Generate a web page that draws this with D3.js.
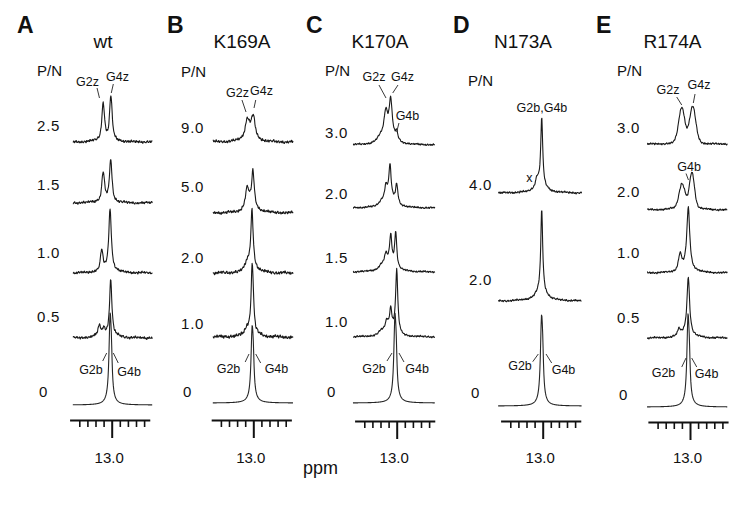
<!DOCTYPE html>
<html><head><meta charset="utf-8">
<script src="https://cdn.jsdelivr.net/npm/d3@7"></script>
<style>
body{margin:0;background:#fff}
text{font-family:Arial,"Liberation Sans",Helvetica,sans-serif;fill:#111}
</style>
</head><body>
<svg id="c" width="742" height="507"></svg>
<script>
// ---------------- DATA ----------------
const panelLetters = ["A","B","C","D","E"];
const panelTitles  = ["wt","K169A","K170A","N173A","R174A"];
const pnHeader = "P/N";
const pnA = ["2.5","1.5","1.0","0.5","0"];
const pnB = ["9.0","5.0","2.0","1.0","0"];
const pnC = ["3.0","2.0","1.5","1.0","0"];
const pnD = ["4.0","2.0","0"];
const pnE = ["3.0","2.0","1.0","0.5","0"];
const axisTicks = [13.4,13.3,13.2,13.1,13.0,12.9,12.8,12.7,12.6];
const majorTick = 13.0;
const majorTickLabel = "13.0";
const axisTitle = "ppm";

// peaks: [ppm, intensity, half-width (ppm), gaussian fraction]
const peaksA = [
  [[13.105,36,0.02,0.3],[13.01,43,0.019,0.3],[13.06,3,0.1]],
  [[13.105,28,0.02,0.3],[13.012,40,0.019,0.3],[13.06,3,0.1]],
  [[13.123,20,0.018,0.3],[13.02,62,0.019],[13.07,3,0.1]],
  [[13.153,10,0.02],[13.10,6,0.016],[13.012,56,0.017],[13.06,3,0.12]],
  [[13.02,78,0.016],[13.004,28,0.012],[13.015,4,0.06]]
];
const peaksB = [
  [[13.074,16,0.03,0.3],[13.0,19,0.026,0.3],[13.04,9,0.07]],
  [[13.076,18,0.026,0.3],[13.004,35,0.018],[13.03,9,0.07]],
  [[13.078,6,0.022],[13.016,57,0.017],[13.03,7,0.07]],
  [[13.015,62,0.015],[13.0,15,0.012],[13.08,5,0.022],[13.03,6,0.07]],
  [[13.015,64,0.016],[13.0,24,0.012],[13.01,4,0.06]]
];
const peaksC = [
  [[13.20,5,0.05],[13.135,25,0.027],[13.074,34,0.021],[13.0,8,0.017],[13.09,10,0.07]],
  [[13.132,15,0.022],[13.083,32,0.016],[13.0,20,0.016],[13.08,9,0.07],[13.19,4,0.04]],
  [[13.135,11,0.022],[13.074,27,0.015],[13.012,35,0.015],[13.08,9,0.07],[13.19,4,0.04]],
  [[13.0,63,0.016],[13.074,19,0.016],[13.125,9,0.02],[13.08,8,0.07],[13.19,4,0.04]],
  [[13.022,75,0.016],[13.006,28,0.012],[13.015,4,0.06]]
];
const peaksD = [
  [[13.012,68,0.014],[13.07,8,0.022],[13.03,8,0.08]],
  [[13.012,82,0.014],[13.02,10,0.08]],
  [[13.015,76,0.016],[13.0,28,0.012],[13.01,4,0.06]]
];
const peaksE = [
  [[13.102,36,0.045,0.8],[12.967,37,0.045,0.8]],
  [[13.102,22,0.04,0.8],[12.99,16,0.025,0.8],[12.962,22,0.03,0.8],[13.03,8,0.08]],
  [[13.123,15,0.022,0.5],[13.021,61,0.021],[13.05,6,0.08]],
  [[13.136,6,0.022,0.5],[13.021,57,0.019],[13.05,5,0.08]],
  [[13.025,80,0.016],[13.008,28,0.012],[13.015,4,0.06]]
];
// baseline noise (hand-typed pattern), amplitude per spectrum
const noisePattern = [0.3,-0.5,0.8,-0.2,-0.9,0.4,0.1,-0.6,0.7,-0.3,0.5,-0.8,0.2,0.6,-0.4,-0.1,0.9,-0.7,0.3,-0.2,0.6,-0.9,0.1,0.4,-0.5,0.8,-0.3,-0.6,0.2,0.7,-0.1,-0.8,0.5,0.3,-0.4,0.9,-0.2,-0.7,0.6,0.1,-0.5,0.4,-0.9,0.2,0.8,-0.3,-0.1,0.5,-0.6,0.7,0.0,-0.4,0.3,-0.8,0.6,-0.2,0.9,-0.5,0.1,-0.7,0.4];
const driftPattern = [0.0,0.6,1.0,0.4,-0.3,-0.8,-0.5,0.2,0.7,0.3,-0.4,-0.9,-0.2,0.5,0.9,0.1,-0.6,-0.3,0.4,0.8,0.0,-0.7];
const noiseA = [1.7,1.6,1.6,1.7,0];
const noiseB = [1.9,1.8,2.0,2.2,0];
const noiseC = [1.1,1.1,1.1,1.1,0];
const noiseD = [1.3,1.2,0];
const noiseE = [1.2,1.2,1.2,1.2,0];

// ---------------- LAYOUT ----------------
const pxPerPpm = 81;
const layout = [
  {x13:111.7, spec:[13.48,12.50], base:[142,203,273,338,405], lx:37, ly:[131,190,258,322,397], pnY:76, axisY:420, letter:17, title:103,
   peaks:peaksA, pn:pnA, noise:noiseA,
   ann:[["G2z",13.299,86,13.181,88,13.151,98],["G4z",12.928,81,12.98,84,13.005,93],
        ["G2b",13.256,374,13.111,361,13.062,353],["G4b",12.786,376,12.98,353,12.919,363]]},
  {x13:253.3, spec:[13.50,12.51], base:[142,213,273,337,403], lx:181, ly:[133,192,263,329,397], pnY:77, axisY:420, letter:167, title:242,
   peaks:peaksB, pn:pnB, noise:noiseB,
   ann:[["G2z",13.195,97,13.14,100,13.09,112],["G4z",12.899,95,12.97,100,12.991,108],
        ["G2b",13.306,373,13.10,362,13.053,354],["G4b",12.714,373,12.97,354,12.909,363]]},
  {x13:396.7, spec:[13.54,12.53], base:[145,208,272,337,403], lx:325, ly:[138,199,263,327,397], pnY:76, axisY:421, letter:306, title:380,
   peaks:peaksC, pn:pnC, noise:noiseC,
   ann:[["G2z",13.28,81,13.219,85,13.132,98],["G4z",12.928,81,12.984,85,13.049,93],
        ["G4b",12.867,120,12.972,123,13.0,132],
        ["G2b",13.28,373,13.12,361,13.058,353],["G4b",12.749,373,12.972,353,12.91,362]]},
  {x13:542.7, spec:[13.55,12.52], base:[193,301,406], lx:469, ly:[190,285,398], pnY:86, axisY:421, letter:453, title:523,
   peaks:peaksD, pn:pnD, noise:noiseD,
   ann:[["G2b,G4b",13.009,112],["x",13.163,182],
        ["G2b",13.28,370,13.123,361.7,13.054,354],["G4b",12.743,374,12.959,354,12.889,363]]},
  {x13:690, spec:[13.53,12.54], base:[144,210,273,338,407], lx:617, ly:[133,197,258,323,400], pnY:76, axisY:422, letter:596, title:672.5,
   peaks:peaksE, pn:pnE, noise:noiseE,
   ann:[["G2z",13.272,94,13.164,97,13.102,105],["G4z",12.889,89,12.938,94,12.959,103],
        ["G4b",13.012,171,13.049,173.5,13.019,180],
        ["G2b",13.327,377,13.102,367,13.049,358],["G4b",12.796,378,12.979,358,12.917,367]]}
];

// ---------------- DRAW ----------------
const svg = d3.select("#c");
const yAmp = d3.scaleLinear().domain([0,100]).range([0,100]);

function shape(v, p){
  const c=p[0], h=p[1], w=p[2], g=p[3]||0;
  const u=(v-c)/w;
  return h*((1-g)/(1+u*u) + g*Math.exp(-Math.LN2*u*u));
}

layout.forEach((L, pi) => {
  const g = svg.append("g");
  const x = d3.scaleLinear().domain([13.52,12.53])
    .range([L.x13 - 0.52*pxPerPpm, L.x13 + 0.47*pxPerPpm]);

  g.append("text").attr("x",L.letter).attr("y",33)
    .style("font-size","23px").style("font-weight","bold").text(panelLetters[pi]);
  g.append("text").attr("x",L.title).attr("y",48).attr("text-anchor","middle")
    .style("font-size","19px").text(panelTitles[pi]);
  g.append("text").attr("x",pi===3?468:L.lx).attr("y",L.pnY)
    .style("font-size","15px").text(pnHeader);

  L.pn.forEach((lab,i)=>{
    g.append("text").attr("x",L.lx + (lab==="0"?2:0)).attr("y",L.ly[i])
      .style("font-size","15px").style("letter-spacing","0.8px").text(lab);
  });

  const line = d3.line().x(d=>x(d[0])).y(d=>d[1]);
  L.peaks.forEach((pk,ri)=>{
    const amp = L.noise[ri];
    const pts=[];
    const step=0.005;
    const n = Math.round((L.spec[0]-L.spec[1])/step);
    const off = (pi*17 + ri*29) % noisePattern.length;
    const doff = (pi*5 + ri*7) % driftPattern.length;
    for(let i=0;i<=n;i++){
      const v = L.spec[0]-i*step;
      const I = d3.sum(pk, p=>shape(v,p));
      const nz = amp * (0.75*noisePattern[(off + Math.floor(i/2)) % noisePattern.length]
                 + 0.35*driftPattern[(doff + Math.floor(i/9)) % driftPattern.length]);
      pts.push([v, L.base[ri] - yAmp(I) + nz]);
    }
    g.append("path").datum(pts).attr("d",line)
      .attr("fill","none").attr("stroke",amp>0?"#1a1a1a":"#262626")
      .attr("stroke-width",amp>0?1.1:1.1).attr("stroke-linejoin","round");
  });

  // annotations
  L.ann.forEach(a=>{
    g.append("text").attr("x",x(a[1])).attr("y",a[2]).attr("text-anchor","middle")
      .style("font-size","12.5px").text(a[0]);
    if(a.length>3){
      g.append("line").attr("x1",x(a[3])).attr("y1",a[4]).attr("x2",x(a[5])).attr("y2",a[6])
        .attr("stroke","#222").attr("stroke-width",0.9);
    }
  });

  // axis
  const ax = d3.axisBottom(x).tickValues(axisTicks).tickSize(7).tickSizeOuter(0).tickFormat("");
  const ag = g.append("g").attr("transform",`translate(0,${L.axisY})`).call(ax);
  ag.select(".domain").attr("stroke","#111").attr("stroke-width",2.2);
  ag.selectAll(".tick line").attr("stroke","#111").attr("stroke-width",1.6)
    .filter(d=>d===majorTick).attr("y2",18).attr("stroke-width",2);
  g.append("text").attr("x",x(majorTick)-2.5).attr("y",463).attr("text-anchor","middle")
    .style("font-size","15px").text(majorTickLabel);
});

svg.append("text").attr("x",303).attr("y",474).style("font-size","18px").text(axisTitle);
</script>
</body></html>
